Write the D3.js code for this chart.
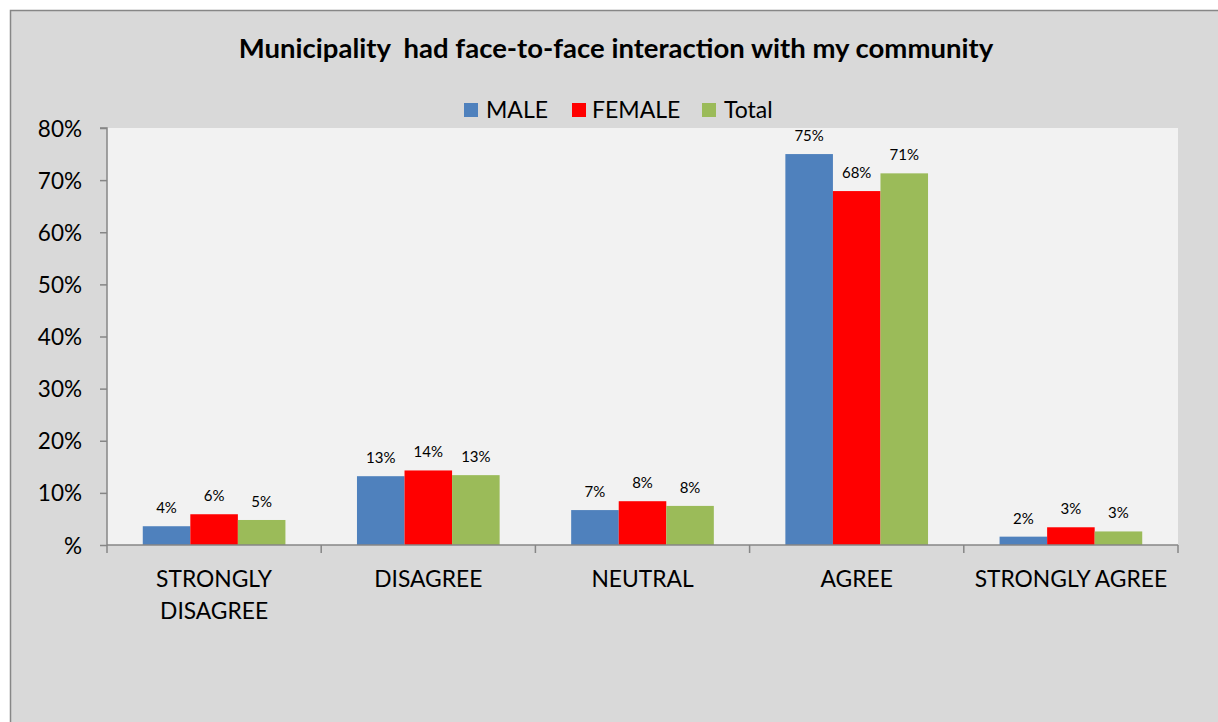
<!DOCTYPE html>
<html>
<head>
<meta charset="utf-8">
<script src="https://cdn.jsdelivr.net/npm/d3@7"></script>
<style>
  html, body { margin: 0; padding: 0; background: #ffffff; }
  svg { display: block; }
  text { font-family: Lato, "Open Sans", sans-serif; fill: #000; white-space: pre; }
</style>
</head>
<body>
<svg id="chart" width="1218" height="722"></svg>
<script>
// Survey responses by gender (percent)
const categories = ["STRONGLY DISAGREE", "DISAGREE", "NEUTRAL", "AGREE", "STRONGLY AGREE"];
const categoryLines = [["STRONGLY", "DISAGREE"], ["DISAGREE"], ["NEUTRAL"], ["AGREE"], ["STRONGLY AGREE"]];
const seriesNames = ["MALE", "FEMALE", "Total"];
const seriesColors = ["#4f81bd", "#ff0000", "#9bbb59"];
const maleValues = [3.6, 13.2, 6.7, 75.0, 1.6];
const femaleValues = [5.9, 14.3, 8.4, 67.9, 3.4];
const totalValues = [4.8, 13.4, 7.5, 71.3, 2.6];
const yTicks = [0, 10, 20, 30, 40, 50, 60, 70, 80];
const yTickLabels = ["%", "10%", "20%", "30%", "40%", "50%", "60%", "70%", "80%"];
const titleText = "Municipality  had face-to-face interaction with my community";

const seriesValues = [maleValues, femaleValues, totalValues];

const svg = d3.select("#chart");
const W = 1218, H = 722;

// chart frame
svg.append("rect").attr("x", 10.5).attr("y", 10.5).attr("width", W).attr("height", H)
  .attr("fill", "#d9d9d9").attr("stroke", "#878787").attr("stroke-width", 1.5);

const plot = { left: 107, right: 1178, top: 128, bottom: 545 };

// plot background
svg.append("rect").attr("x", plot.left).attr("y", plot.top)
  .attr("width", plot.right - plot.left).attr("height", plot.bottom - plot.top)
  .attr("fill", "#f2f2f2");

// category slots, with the three bars of each group centred in the slot
const slot = d3.scaleBand().domain(categories).range([plot.left, plot.right]).padding(0);
const inner = d3.scaleBand().domain(seriesNames).range([0, slot.bandwidth() * 0.666]).padding(0);
const groupOffset = slot.bandwidth() * 0.167;

const y = d3.scaleLinear().domain([0, 80]).range([plot.bottom, plot.top]);

// Y axis
const yAxis = d3.axisLeft(y).tickValues(yTicks)
  .tickFormat((d, i) => yTickLabels[i]).tickSize(7).tickPadding(18);
const yg = svg.append("g").attr("transform", `translate(${plot.left},0)`).call(yAxis);
yg.select(".domain").attr("stroke", "#868686").attr("stroke-width", 1.5)
  .attr("d", `M-7,${plot.top}H0V${plot.bottom}`);
yg.selectAll(".tick line").attr("stroke", "#868686").attr("stroke-width", 1.5);
yg.selectAll(".tick text").attr("font-size", 22.5).attr("font-family", "Lato, 'Open Sans', sans-serif")
  .attr("fill", "#000").attr("dy", "0.36em");

// Bars with value labels
categories.forEach((cat, ci) => {
  seriesNames.forEach((s, si) => {
    const v = seriesValues[si][ci];
    const bx = slot(cat) + groupOffset + inner(s);
    svg.append("rect")
      .attr("x", bx).attr("y", y(v))
      .attr("width", inner.bandwidth()).attr("height", y(0) - y(v))
      .attr("fill", seriesColors[si]);
    svg.append("text")
      .attr("x", bx + inner.bandwidth() / 2).attr("y", y(v) - 13)
      .attr("text-anchor", "middle").attr("font-size", 15)
      .text(d3.format(".0f")(v) + "%");
  });
});

// X axis
const xg = svg.append("g").attr("transform", `translate(0,${plot.bottom})`);
xg.append("line").attr("x1", plot.left).attr("x2", plot.right).attr("y1", 0).attr("y2", 0)
  .attr("stroke", "#868686").attr("stroke-width", 1.5);
const boundaries = categories.map(c => slot(c)).concat([plot.right]);
xg.selectAll("line.tk").data(boundaries).join("line").attr("class", "tk")
  .attr("x1", d => d).attr("x2", d => d).attr("y1", 0).attr("y2", 8)
  .attr("stroke", "#868686").attr("stroke-width", 1.5);
categories.forEach((cat, ci) => {
  const cx = slot(cat) + slot.bandwidth() / 2;
  const t = xg.append("text").attr("x", cx)
    .attr("y", 42).attr("text-anchor", "middle").attr("font-size", 22.8);
  categoryLines[ci].forEach((line, li) => {
    t.append("tspan").attr("x", cx).attr("dy", li === 0 ? 0 : 32).text(line);
  });
});

// Title
svg.append("text").attr("x", 616).attr("y", 58).attr("text-anchor", "middle")
  .attr("font-size", 27.5).attr("font-weight", "bold").text(titleText);

// Legend
const legendItems = [
  { name: seriesNames[0], sx: 464, tx: 486 },
  { name: seriesNames[1], sx: 572, tx: 592 },
  { name: seriesNames[2], sx: 702, tx: 724 }
];
legendItems.forEach((it, i) => {
  svg.append("rect").attr("x", it.sx).attr("y", 103).attr("width", 14).attr("height", 14)
    .attr("fill", seriesColors[i]);
  svg.append("text").attr("x", it.tx).attr("y", 118).attr("font-size", 23).text(it.name);
});
</script>
</body>
</html>
